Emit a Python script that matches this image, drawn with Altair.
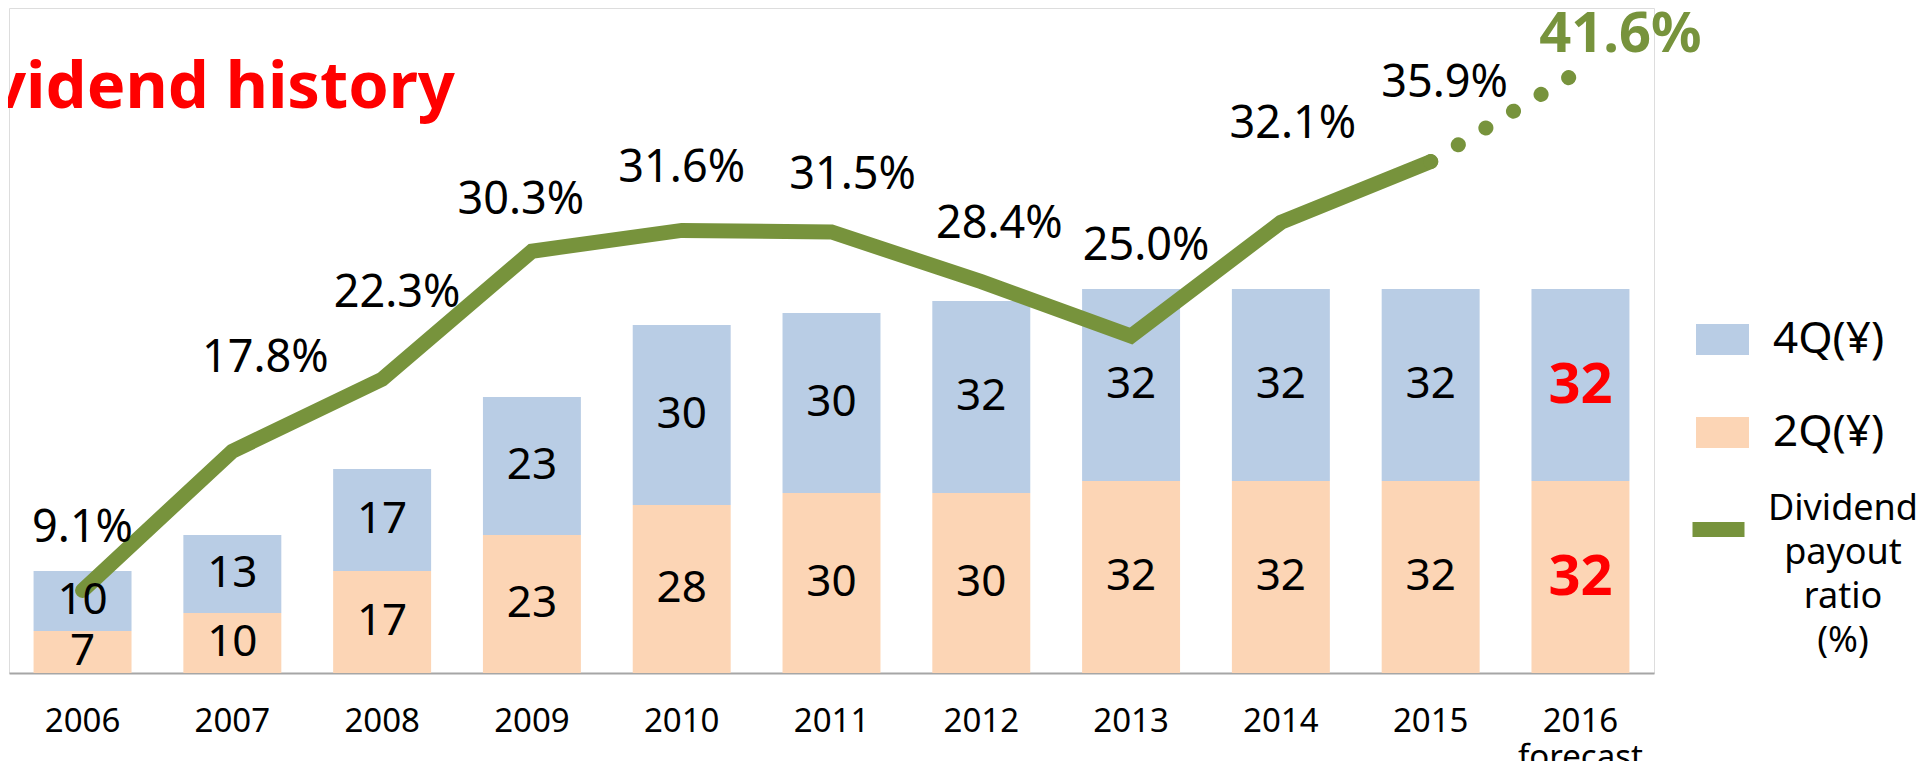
import altair as alt
import pandas as pd

# ---------------- data ----------------
years = ["2006", "2007", "2008", "2009", "2010", "2011", "2012", "2013", "2014", "2015", "2016"]
q2_yen = [7, 10, 17, 23, 28, 30, 30, 32, 32, 32, 32]
q4_yen = [10, 13, 17, 23, 30, 30, 32, 32, 32, 32, 32]
payout_pct = [9.1, 17.8, 22.3, 30.3, 31.6, 31.5, 28.4, 25.0, 32.1, 35.9, 41.6]
forecast_year = "2016"
q4_name = "4Q(¥)"
q2_name = "2Q(¥)"
line_name = "Dividend payout ratio (%)"
line_legend_text = "Dividend\npayout\nratio\n(%)"

# label nudges (pixels) for the payout labels
pct_label_dx = [0, 33, 15, -11, 0, 21, 18, 15, 12, 14, 40]
pct_label_dy = [-63, -94, -87, -52, -63, -58, -59, -91, -99, -80, -36]

FONT = "Noto Sans"
BLUE = "#B9CDE5"
ORANGE = "#FCD5B5"
GREEN = "#77933C"
RED = "#FF0000"

bars_rows = []
for y, a, b in zip(years, q2_yen, q4_yen):
    bars_rows.append({"year": y, "quarter": q2_name, "value": a, "ord": 0})
    bars_rows.append({"year": y, "quarter": q4_name, "value": b, "ord": 1})
df_bars = pd.DataFrame(bars_rows)

df_pct = pd.DataFrame({"year": years, "payout": payout_pct,
                       "label": [f"{p:.1f}%" for p in payout_pct],
                       "series": [line_name] * len(years)})
df_solid = df_pct[df_pct["year"] != forecast_year]
df_dot = df_pct[df_pct["year"].isin([years[-2], years[-1]])]

x_scale = alt.Scale(domain=years, paddingInner=0.346, paddingOuter=0.164)
yen_scale = alt.Scale(domain=[0, 110.83], nice=False, zero=True)
pct_scale = alt.Scale(domain=[3.9375, 45.5], nice=False, zero=False)

x_enc = alt.X(
    "year:N", scale=x_scale, title=None,
    axis=alt.Axis(
        title=None, labelFont=FONT, labelFontSize=33, labelColor="black",
        domainColor="#A6A6A6", domainWidth=2, ticks=False, tickSize=0,
        labelPadding=32, labelAngle=0, grid=False, labelBaseline="top",
        labelLineHeight=36,
        labelExpr="datum.label == '2016' ? ['2016', 'forecast'] : datum.label",
    ),
)

fill_legend = alt.Legend(
    orient="none", legendX=1687, legendY=305, direction="vertical", title=None,
    symbolType="M-1,-0.585L1,-0.585L1,0.585L-1,0.585Z", symbolSize=2809,
    symbolStrokeWidth=0, labelFont=FONT, labelFontSize=44, labelColor="black",
    labelOffset=24, rowPadding=44, padding=0, labelLimit=400,
)
stroke_legend = alt.Legend(
    orient="none", legendX=1676, legendY=488, title=None,
    symbolType="stroke", symbolSize=2704, symbolStrokeWidth=15,
    labelFontSize=1, labelExpr="''", padding=0,
)

bars = alt.Chart(df_bars).mark_bar().encode(
    x=x_enc,
    y=alt.Y("value:Q", scale=yen_scale, stack="zero", axis=None),
    color=alt.Color("quarter:N", scale=alt.Scale(domain=[q4_name, q2_name], range=[BLUE, ORANGE]),
                    legend=fill_legend),
    order=alt.Order("ord:Q"),
)

stacked = alt.Chart(df_bars).transform_stack(
    stack="value", groupby=["year"], as_=["v0", "v1"],
    sort=[alt.SortField("ord", order="ascending")],
).transform_calculate(mid="(datum.v0 + datum.v1) / 2")

bar_labels = stacked.transform_filter(f"datum.year != '{forecast_year}'").mark_text(
    font=FONT, fontSize=44, color="black", baseline="middle", dy=0,
).encode(
    x=x_enc,
    y=alt.Y("mid:Q", scale=yen_scale, axis=None),
    text=alt.Text("value:Q", format="d"),
)
bar_labels_fc = stacked.transform_filter(f"datum.year == '{forecast_year}'").mark_text(
    font=FONT, fontSize=56, fontWeight="bold", color=RED, baseline="middle", dy=1,
).encode(
    x=x_enc,
    y=alt.Y("mid:Q", scale=yen_scale, axis=None),
    text=alt.Text("value:Q", format="d"),
)

line = alt.Chart(df_solid).mark_line(strokeWidth=15, strokeCap="round", strokeJoin="miter").encode(
    x=x_enc,
    y=alt.Y("payout:Q", scale=pct_scale, axis=None),
    stroke=alt.Stroke("series:N", scale=alt.Scale(domain=[line_name], range=[GREEN]),
                      legend=stroke_legend),
)
dots = alt.Chart(df_dot).mark_line(strokeWidth=15, strokeCap="round", strokeDash=[0.1, 32.2],
                                   color=GREEN).encode(
    x=x_enc,
    y=alt.Y("payout:Q", scale=pct_scale, axis=None),
)

pct_layers = []
for i, yr in enumerate(years):
    fc = yr == forecast_year
    pct_layers.append(
        alt.Chart(df_pct.iloc[[i]]).mark_text(
            font=FONT, fontSize=56 if fc else 45, fontWeight="bold" if fc else "normal",
            color=GREEN if fc else "black", baseline="middle",
            dx=pct_label_dx[i], dy=pct_label_dy[i] + 1,
        ).encode(
            x=x_enc,
            y=alt.Y("payout:Q", scale=pct_scale, axis=None),
            text="label:N",
        )
    )

title = alt.Chart(pd.DataFrame({"t": ["Dividend history"]})).mark_text(
    font=FONT, fontSize=65, fontWeight="bold", color=RED, align="right", baseline="alphabetic",
).encode(x=alt.value(446), y=alt.value(100), text="t:N")

legend_label = alt.Chart(pd.DataFrame({"t": [line_legend_text]})).mark_text(
    font=FONT, fontSize=36, color="black", align="center", baseline="alphabetic",
    lineBreak="\n", lineHeight=44,
).encode(x=alt.value(1834), y=alt.value(512), text="t:N")

chart = alt.layer(
    bars, line, dots, bar_labels, bar_labels_fc, *pct_layers, title, legend_label
).resolve_scale(
    y="independent"
).properties(
    width=1645, height=665,
    padding={"left": 1, "top": 0, "right": 264, "bottom": 88},
    autosize=alt.AutoSizeParams(type="none"),
).configure_view(stroke=None).configure(font=FONT)

chart.save("out.html", embed_options={"renderer": "svg", "actions": False})
